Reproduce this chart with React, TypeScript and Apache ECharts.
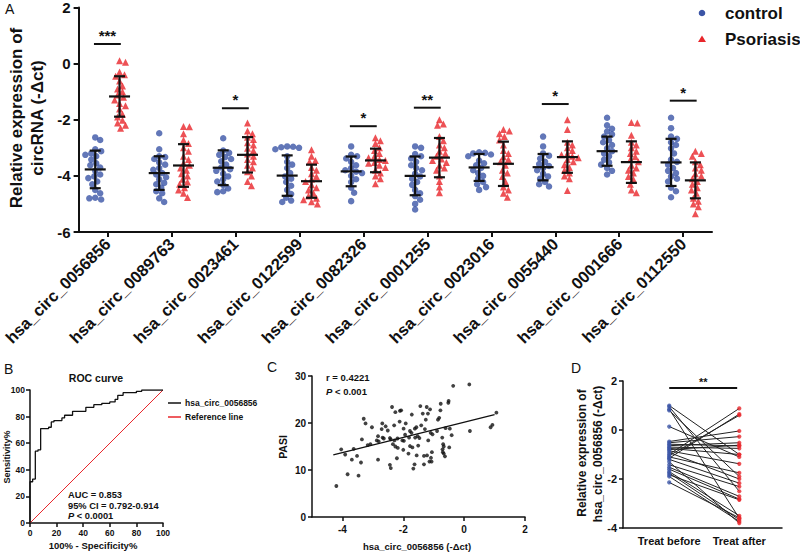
import React, { useEffect, useRef } from 'react';
import * as echarts from 'echarts';

const FONT = 'Arial, "Liberation Sans", Helvetica, sans-serif';
const BLUE = '#3b55a6';
const RED = '#e8262b';
const INK = '#111111';

// ---------- Panel A ----------
const genes = [
  'hsa_circ_0056856', 'hsa_circ_0089763', 'hsa_circ_0023461', 'hsa_circ_0122599', 'hsa_circ_0082326',
  'hsa_circ_0001255', 'hsa_circ_0023016', 'hsa_circ_0055440', 'hsa_circ_0001666', 'hsa_circ_0112550',
];
const controlValues: number[][] = [
  [-2.63, -2.72, -3.05, -3.12, -3.2, -3.25, -3.3, -3.42, -3.55, -3.62, -3.7, -3.82, -3.95, -4.02, -4.08, -4.2, -4.3, -4.5, -4.62, -4.78, -4.84, -4.8],
  [-2.48, -3.05, -3.3, -3.33, -3.4, -3.52, -3.6, -3.72, -3.78, -3.9, -3.95, -4.05, -4.12, -4.25, -4.3, -4.42, -4.55, -4.62, -4.8, -4.93],
  [-2.66, -3.1, -3.18, -3.25, -3.33, -3.4, -3.48, -3.6, -3.7, -3.76, -3.82, -3.92, -4.02, -4.12, -4.2, -4.32, -4.45, -4.55, -4.58],
  [-2.95, -2.96, -2.98, -3.0, -3.05, -3.3, -3.5, -3.6, -3.72, -3.9, -4.02, -4.1, -4.22, -4.35, -4.5, -4.65, -4.78, -4.88, -4.93],
  [-2.95, -3.25, -3.3, -3.38, -3.5, -3.62, -3.72, -3.8, -3.85, -3.9, -4.0, -4.12, -4.22, -4.42, -4.6, -4.9],
  [-2.95, -3.0, -3.22, -3.3, -3.38, -3.5, -3.62, -3.72, -3.8, -3.92, -4.02, -4.1, -4.22, -4.32, -4.5, -4.62, -4.72, -4.85, -5.0, -5.2],
  [-3.16, -3.18, -3.2, -3.24, -3.3, -3.45, -3.55, -3.62, -3.72, -3.8, -3.9, -4.0, -4.1, -4.22, -4.3, -4.4, -4.5],
  [-2.6, -2.95, -3.2, -3.28, -3.38, -3.5, -3.58, -3.65, -3.72, -3.8, -3.92, -4.02, -4.1, -4.22, -4.3, -4.38],
  [-1.93, -2.2, -2.32, -2.42, -2.52, -2.6, -2.72, -2.8, -2.9, -3.02, -3.12, -3.2, -3.3, -3.42, -3.52, -3.6, -3.72, -3.82, -3.95],
  [-1.93, -2.3, -2.6, -2.68, -2.8, -2.9, -3.02, -3.2, -3.42, -3.5, -3.6, -3.72, -3.82, -3.9, -4.02, -4.1, -4.2, -4.42, -4.55, -4.76],
];
const psoriasisValues: number[][] = [
  [0.1, 0.05, -0.3, -0.4, -0.45, -0.62, -0.8, -0.9, -1.0, -1.12, -1.2, -1.3, -1.42, -1.5, -1.62, -1.8, -1.9, -2.02, -2.12, -2.2, -2.3],
  [-2.24, -2.25, -2.5, -2.72, -2.85, -3.0, -3.12, -3.3, -3.42, -3.55, -3.62, -3.72, -3.8, -3.92, -4.0, -4.12, -4.22, -4.3, -4.42, -4.5, -4.62, -4.77],
  [-2.12, -2.4, -2.5, -2.62, -2.7, -2.82, -2.9, -3.02, -3.1, -3.22, -3.3, -3.42, -3.5, -3.62, -3.72, -3.85, -4.0, -4.2, -4.35],
  [-3.07, -3.3, -3.45, -3.5, -3.7, -3.8, -3.92, -4.02, -4.12, -4.2, -4.32, -4.42, -4.5, -4.62, -4.72, -4.8, -4.85, -4.92, -5.0],
  [-2.64, -2.75, -2.85, -3.0, -3.1, -3.2, -3.3, -3.35, -3.42, -3.45, -3.52, -3.55, -3.62, -3.7, -3.8, -3.9, -4.0, -4.1, -4.28],
  [-2.0, -2.15, -2.2, -2.6, -2.75, -2.9, -3.0, -3.12, -3.2, -3.3, -3.4, -3.45, -3.52, -3.62, -3.72, -3.8, -4.0, -4.2, -4.4, -4.6],
  [-2.35, -2.4, -2.5, -2.6, -2.72, -2.9, -3.1, -3.2, -3.32, -3.42, -3.5, -3.62, -3.8, -3.9, -4.02, -4.2, -4.4, -4.5, -4.62, -4.76],
  [-2.0, -2.35, -2.8, -2.9, -3.0, -3.1, -3.2, -3.25, -3.3, -3.35, -3.42, -3.5, -3.6, -3.7, -3.8, -3.9, -4.0, -4.1, -4.52],
  [-2.1, -2.12, -2.55, -2.8, -2.9, -3.0, -3.12, -3.2, -3.32, -3.42, -3.5, -3.62, -3.72, -3.8, -3.9, -4.02, -4.12, -4.3, -4.5, -4.6],
  [-3.12, -3.2, -3.3, -3.5, -3.6, -3.72, -3.8, -3.92, -4.0, -4.1, -4.2, -4.3, -4.42, -4.5, -4.62, -4.8, -4.9, -5.0, -5.1, -5.35],
];
const controlMean = [-3.77, -3.9, -3.71, -3.99, -3.84, -4.0, -3.7, -3.69, -3.12, -3.52];
const controlSD = [0.67, 0.6, 0.62, 0.72, 0.53, 0.69, 0.48, 0.47, 0.52, 0.84];
const psoriasisMean = [-1.17, -3.63, -3.25, -4.19, -3.45, -3.35, -3.57, -3.33, -3.51, -4.16];
const psoriasisSD = [0.72, 0.76, 0.63, 0.59, 0.42, 0.7, 0.79, 0.56, 0.74, 0.64];
const sigLabels = ['***', '', '*', '', '*', '**', '', '*', '', '*'];
const sigHeights = [0.7, NaN, -1.59, NaN, -2.23, -1.57, NaN, -1.44, NaN, -1.32];

// ---------- Panel B ----------
const rocSpecificity = [0, 0, 2, 2, 4, 4, 6, 6, 8, 8, 14, 14, 16, 16, 18, 18, 24, 24, 26, 26, 32, 32, 42, 42, 48, 48, 54, 54, 60, 60, 64, 64, 66, 66, 70, 70, 80, 80, 84, 84, 100];
const rocSensitivity = [0, 31, 31, 33, 33, 54, 54, 55, 55, 71, 71, 72, 72, 76, 76, 77, 77, 79, 79, 81, 81, 84, 84, 87, 87, 89, 89, 90, 90, 91, 91, 93, 93, 96, 96, 98, 98, 99, 99, 100, 100];
const refLineX = [0, 100];
const refLineY = [0, 100];

// ---------- Panel C ----------
const pasiX = [
  -4.2, -4.04, -3.91, -3.83, -3.69, -3.63, -3.52, -3.47, -3.39, -3.36, -3.3, -3.24, -3.17, -3.08, -3.03,
  -2.87, -2.83, -2.83, -2.81, -2.71, -2.69, -2.68, -2.64, -2.58, -2.51, -2.44, -2.44, -2.41, -2.41, -2.37,
  -2.34, -2.3, -2.29, -2.26, -2.26, -2.21, -2.19, -2.18, -2.12, -2.11, -2.07, -2.03, -2.0, -1.99, -1.98,
  -1.94, -1.92, -1.83, -1.81, -1.78, -1.78, -1.73, -1.72, -1.7, -1.67, -1.63, -1.62, -1.61, -1.57, -1.56,
  -1.53, -1.51, -1.47, -1.44, -1.41, -1.36, -1.32, -1.32, -1.29, -1.26, -1.23, -1.22, -1.19, -1.18, -1.14,
  -1.12, -1.1, -1.09, -1.07, -1.06, -1.04, -0.89, -0.86, -0.82, -0.78, -0.77, -0.72, -0.71, -0.7, -0.69,
  -0.67, -0.67, -0.63, -0.61, -0.52, -0.51, -0.49, -0.47, -0.41, -0.36, 0.17, 0.19, 0.87, 0.93, 1.06,
];
const pasiY = [
  6.6, 14.4, 13.3, 9.1, 12.2, 14.5, 13.0, 8.8, 11.6, 16.5, 20.9, 19.9, 15.3, 15.5, 19.1,
  16.3, 17.2, 12.2, 16.1, 18.7, 19.9, 16.9, 16.7, 19.3, 18.4, 16.8, 11.1, 10.4, 16.5, 23.4,
  15.5, 19.5, 16.3, 22.3, 15.0, 12.5, 16.7, 14.7, 20.3, 22.6, 22.7, 16.3, 14.3, 18.8, 16.2,
  17.5, 19.9, 13.5, 16.9, 15.1, 18.3, 17.9, 21.8, 14.8, 10.3, 11.2, 18.8, 16.9, 19.1, 13.1,
  17.2, 15.2, 16.8, 23.6, 19.5, 22.0, 13.0, 11.2, 18.7, 20.7, 23.4, 13.1, 22.0, 16.3, 11.8,
  22.9, 17.9, 12.6, 11.8, 13.8, 17.6, 18.3, 20.7, 21.1, 22.7, 24.1, 16.9, 14.4, 13.8, 15.5,
  15.0, 13.5, 12.9, 18.9, 24.3, 24.7, 14.8, 18.8, 17.4, 27.9, 28.2, 18.3, 19.1, 19.6, 22.2,
];
const fitX = [-4.3, 1.0];
const fitY = [13.2, 21.8];

// ---------- Panel D ----------
const treatLabels = ['Treat before', 'Treat after'];
const beforeValues = [1.0, 0.95, 0.85, 0.8, 0.14, -0.47, -0.52, -0.58, -0.64, -0.7, -0.75, -0.8, -0.85, -0.92, -0.99, -1.05, -1.1, -1.15, -1.2, -1.3, -1.42, -1.52, -1.6, -1.7, -1.76, -1.83, -1.9, -2.14];
const afterValues = [-1.0, -2.5, -3.6, -1.9, -1.1, -0.04, -0.27, -0.65, -0.52, -0.75, -1.0, -0.62, -1.38, -2.0, 0.88, 0.6, -1.75, 0.65, -2.17, -3.8, -2.31, -2.71, -2.82, -3.5, -3.66, -2.85, -3.73, -3.58];

// ---------- helpers ----------
const GA = { left: 71, top: 7, width: 641, height: 225 };
const AX_MIN = -0.45, AX_MAX = 9.45;
const PX_PER_X = GA.width / (AX_MAX - AX_MIN);
const PX_PER_Y = GA.height / 8;
const GROUP_OFFSET = 0.19;

function swarm(values: number[], center: number): number[][] {
  const placed: number[][] = [];
  const out: number[][] = [];
  const sorted = [...values].sort((a, b) => b - a);
  const cands: number[] = [0];
  for (let k = 1; k <= 20; k++) cands.push(k, -k);
  const minD = 5.6;
  sorted.forEach((v) => {
    const py = -v * PX_PER_Y;
    let chosen = 0;
    for (const dx of cands) {
      if (placed.every((p) => Math.hypot(p[0] - dx, p[1] - py) >= minD)) { chosen = dx; break; }
    }
    placed.push([chosen, py]);
    out.push([center + chosen / PX_PER_X, v]);
  });
  return out;
}

function txt(text: string, x: number, y: number, o: any = {}) {
  const align = o.align || 'left';
  const va = o.va || 'middle';
  return {
    type: 'text', x, y, rotation: o.rot || 0, silent: true, z: 100,
    style: {
      text, fill: INK, fontSize: o.size || 12, fontWeight: o.weight || 'bold', fontFamily: FONT,
      fontStyle: o.italic ? 'italic' : 'normal',
      textAlign: align, textVerticalAlign: va, align, verticalAlign: va,
      lineHeight: o.lh, rich: o.rich,
    },
  };
}

function errorBarSeries(means: number[], sds: number[], offset: number) {
  return {
    type: 'custom', xAxisIndex: 0, yAxisIndex: 0, z: 5,
    data: means.map((m, i) => [i + offset, m, sds[i]]),
    encode: { x: 0, y: 1 },
    renderItem: (_p: any, api: any) => {
      const x = api.value(0), m = api.value(1), sd = api.value(2);
      const c = api.coord([x, m]);
      const t = api.coord([x, m + sd]);
      const b = api.coord([x, m - sd]);
      const st = { stroke: INK, lineWidth: 2.2 };
      return {
        type: 'group', children: [
          { type: 'line', shape: { x1: c[0] - 10.5, y1: c[1], x2: c[0] + 10.5, y2: c[1] }, style: st },
          { type: 'line', shape: { x1: c[0], y1: t[1], x2: c[0], y2: b[1] }, style: st },
          { type: 'line', shape: { x1: c[0] - 5.5, y1: t[1], x2: c[0] + 5.5, y2: t[1] }, style: st },
          { type: 'line', shape: { x1: c[0] - 5.5, y1: b[1], x2: c[0] + 5.5, y2: b[1] }, style: st },
        ],
      };
    },
  };
}

function sigSeries(items: { x1: number; x2: number; y: number; label: string }[], axis: number, size: number) {
  return {
    type: 'custom', xAxisIndex: axis, yAxisIndex: axis, z: 6,
    data: items.map((it, i) => [it.x1, it.x2, it.y, i]),
    encode: { x: [0, 1], y: 2 },
    renderItem: (_p: any, api: any) => {
      const idx = api.value(3);
      const a = api.coord([api.value(0), api.value(2)]);
      const b = api.coord([api.value(1), api.value(2)]);
      return {
        type: 'group', children: [
          { type: 'line', shape: { x1: a[0], y1: a[1], x2: b[0], y2: a[1] }, style: { stroke: INK, lineWidth: 2 } },
          {
            type: 'text', x: (a[0] + b[0]) / 2, y: a[1] - 1,
            style: {
              text: items[idx].label, fill: INK, fontSize: size, fontWeight: 'bold', fontFamily: FONT,
              textAlign: 'center', textVerticalAlign: 'bottom', align: 'center', verticalAlign: 'bottom',
            },
          },
        ],
      };
    },
  };
}

function baseAxis(extra: any, labelSize: number, lw: number) {
  return {
    splitLine: { show: false },
    axisLine: { show: true, onZero: false, lineStyle: { color: INK, width: lw } },
    axisTick: { show: true, length: 4, lineStyle: { color: INK, width: lw } },
    axisLabel: { color: INK, fontSize: labelSize, fontWeight: 'bold', fontFamily: FONT },
    ...extra,
  };
}

function buildOption(): any {
  const ctrlPts: number[][] = [];
  const psoPts: number[][] = [];
  genes.forEach((_g, i) => {
    ctrlPts.push(...swarm(controlValues[i], i - GROUP_OFFSET));
    psoPts.push(...swarm(psoriasisValues[i], i + GROUP_OFFSET));
  });
  const sigItems = sigLabels
    .map((label, i) => ({ x1: i - 0.21, x2: i + 0.21, y: sigHeights[i], label }))
    .filter((it) => it.label !== '');

  const catIdx = genes.map((_g, i) => i);

  const xAxis = [
    baseAxis({
      gridIndex: 0, type: 'value', min: AX_MIN, max: AX_MAX,
      axisTick: { show: true, length: 5, customValues: catIdx, lineStyle: { color: INK, width: 2 } },
      axisLabel: {
        customValues: catIdx, rotate: 45, margin: 9, color: INK, fontSize: 16.5, fontWeight: 'bold', fontFamily: FONT,
        formatter: (v: number) => genes[Math.round(v)] ?? '',
      },
    }, 16.5, 2),
    baseAxis({ gridIndex: 1, type: 'value', min: 0, max: 100, interval: 20 }, 8.5, 1.5),
    baseAxis({
      gridIndex: 2, type: 'value', min: -5, max: 2,
      axisTick: { show: true, length: 4, customValues: [-4, -2, 0, 2], lineStyle: { color: INK, width: 1.5 } },
      axisLabel: { customValues: [-4, -2, 0, 2], margin: 7, color: INK, fontSize: 10, fontWeight: 'bold', fontFamily: FONT },
    }, 10, 1.5),
    baseAxis({
      gridIndex: 3, type: 'value', min: -0.66, max: 1.61,
      axisTick: { show: false },
      axisLabel: {
        customValues: [0, 1], margin: 7, color: INK, fontSize: 11, fontWeight: 'bold', fontFamily: FONT,
        formatter: (v: number) => treatLabels[Math.round(v)] ?? '',
      },
    }, 11, 1.5),
  ];
  xAxis[1].axisLabel.margin = 5;
  const yAxis = [
    baseAxis({ gridIndex: 0, type: 'value', min: -6, max: 2, interval: 2 }, 15, 2),
    baseAxis({ gridIndex: 1, type: 'value', min: 0, max: 100, interval: 20 }, 8.5, 1.5),
    baseAxis({ gridIndex: 2, type: 'value', min: 0, max: 30, interval: 10 }, 10, 1.5),
    baseAxis({ gridIndex: 3, type: 'value', min: -4, max: 2, interval: 2 }, 11, 1.5),
  ];
  yAxis[0].axisTick.length = 5;
  yAxis[0].axisLabel.margin = 8;
  yAxis[1].axisLabel.margin = 5;
  yAxis[2].axisLabel.margin = 6;
  yAxis[3].axisLabel.margin = 6;

  const series: any[] = [
    { type: 'scatter', name: 'control', xAxisIndex: 0, yAxisIndex: 0, symbol: 'circle', symbolSize: 6.5, itemStyle: { color: BLUE }, data: ctrlPts, z: 2 },
    { type: 'scatter', name: 'Psoriasis', xAxisIndex: 0, yAxisIndex: 0, symbol: 'triangle', symbolSize: 7, itemStyle: { color: RED }, data: psoPts, z: 2 },
    errorBarSeries(controlMean, controlSD, -GROUP_OFFSET),
    errorBarSeries(psoriasisMean, psoriasisSD, GROUP_OFFSET),
    sigSeries(sigItems, 0, 15),
    {
      type: 'line', name: 'hsa_circ_0056856', xAxisIndex: 1, yAxisIndex: 1, showSymbol: false, symbol: 'none',
      lineStyle: { color: INK, width: 1.3 }, data: rocSpecificity.map((x, i) => [x, rocSensitivity[i]]), z: 4,
    },
    {
      type: 'line', name: 'Reference line', xAxisIndex: 1, yAxisIndex: 1, showSymbol: false, symbol: 'none',
      lineStyle: { color: RED, width: 1 }, data: refLineX.map((x, i) => [x, refLineY[i]]), z: 3,
    },
    {
      type: 'scatter', xAxisIndex: 2, yAxisIndex: 2, symbol: 'circle', symbolSize: 3.8,
      itemStyle: { color: INK }, data: pasiX.map((x, i) => [x, pasiY[i]]),
    },
    {
      type: 'line', xAxisIndex: 2, yAxisIndex: 2, showSymbol: false, symbol: 'none',
      lineStyle: { color: INK, width: 1.3 }, data: fitX.map((x, i) => [x, fitY[i]]),
    },
    {
      type: 'lines', coordinateSystem: 'cartesian2d', xAxisIndex: 3, yAxisIndex: 3,
      lineStyle: { color: '#222', width: 1, opacity: 1 },
      data: beforeValues.map((b, i) => ({ coords: [[0, b], [1, afterValues[i]]] })),
      z: 2,
    },
    {
      type: 'scatter', xAxisIndex: 3, yAxisIndex: 3, symbol: 'circle', symbolSize: 4.2,
      itemStyle: { color: BLUE }, data: beforeValues.map((b) => [0, b]), z: 3,
    },
    {
      type: 'scatter', xAxisIndex: 3, yAxisIndex: 3, symbol: 'circle', symbolSize: 4.2,
      itemStyle: { color: RED }, data: afterValues.map((a) => [1, a]), z: 3,
    },
    sigSeries([{ x1: 0, x2: 0.97, y: 1.71, label: '**' }], 3, 11),
  ];

  const graphic: any[] = [
    // panel letters
    txt('A', 5, 9, { size: 14, weight: 'normal' }),
    txt('B', 4, 369, { size: 14, weight: 'normal' }),
    txt('C', 267, 367, { size: 14, weight: 'normal' }),
    txt('D', 571, 368, { size: 14, weight: 'normal' }),
    // panel A axis title
    txt('Relative expression of', 16, 118, { size: 17, rot: Math.PI / 2, align: 'center' }),
    txt('circRNA (-\u0394ct)', 37, 118, { size: 17, rot: Math.PI / 2, align: 'center' }),
    // panel A legend
    { type: 'circle', shape: { cx: 702, cy: 13, r: 3.3 }, style: { fill: BLUE }, silent: true },
    txt('control', 725, 13, { size: 17 }),
    { type: 'polygon', shape: { points: [[702, 35.5], [698, 42], [706, 42]] }, style: { fill: RED }, silent: true },
    txt('Psoriasis', 725, 39, { size: 17 }),
    // panel B
    txt('ROC curve', 96, 378, { size: 10.5, align: 'center' }),
    txt('100% - Specificity%', 93, 545, { size: 9.5, align: 'center' }),
    txt('Sensitivity%', 7, 457, { size: 9, rot: Math.PI / 2, align: 'center' }),
    { type: 'line', shape: { x1: 168, y1: 403, x2: 181, y2: 403 }, style: { stroke: INK, lineWidth: 1.5 }, silent: true },
    txt('hsa_circ_0056856', 185, 403, { size: 8.5 }),
    { type: 'line', shape: { x1: 168, y1: 417, x2: 181, y2: 417 }, style: { stroke: RED, lineWidth: 1.5 }, silent: true },
    txt('Reference line', 185, 417, { size: 8.5 }),
    txt('AUC = 0.853', 68, 495, { size: 9.3 }),
    txt('95% CI = 0.792-0.914', 68, 506, { size: 9.3 }),
    txt('{i|P} < 0.0001', 68, 516, {
      size: 9.3,
      rich: { i: { fontStyle: 'italic', fontWeight: 'bold', fontSize: 9.3, fontFamily: FONT, fill: INK } },
    }),
    // panel C
    txt('PASI', 283, 447, { size: 10.5, rot: Math.PI / 2, align: 'center' }),
    txt('hsa_circ_0056856 (-\u0394ct)', 417, 546, { size: 9.5, align: 'center' }),
    txt('r = 0.4221', 326, 377, { size: 9.5 }),
    txt('{i|P} < 0.001', 326, 391, {
      size: 9.5,
      rich: { i: { fontStyle: 'italic', fontWeight: 'bold', fontSize: 9.5, fontFamily: FONT, fill: INK } },
    }),
    // panel D
    txt('Relative expression of', 582, 453, { size: 12, rot: Math.PI / 2, align: 'center' }),
    txt('hsa_circ_0056856 (-\u0394ct)', 598, 454, { size: 12, rot: Math.PI / 2, align: 'center' }),
  ];

  return {
    animation: false,
    backgroundColor: '#ffffff',
    textStyle: { fontFamily: FONT },
    grid: [
      { ...GA, containLabel: false },
      { left: 30, top: 390, width: 133, height: 133 },
      { left: 312, top: 376, width: 213, height: 141 },
      { left: 623, top: 381, width: 159, height: 147 },
    ],
    xAxis,
    yAxis,
    series,
    graphic,
  };
}

export default function App() {
  const ref = useRef<HTMLDivElement>(null);
  useEffect(() => {
    if (!ref.current) return;
    const chart = echarts.init(ref.current, null, { renderer: 'svg' });
    chart.setOption(buildOption());
    return () => chart.dispose();
  }, []);
  return (
    <div
      ref={ref}
      style={{ position: 'absolute', left: 0, top: 0, width: 800, height: 554, background: '#fff' }}
    />
  );
}
